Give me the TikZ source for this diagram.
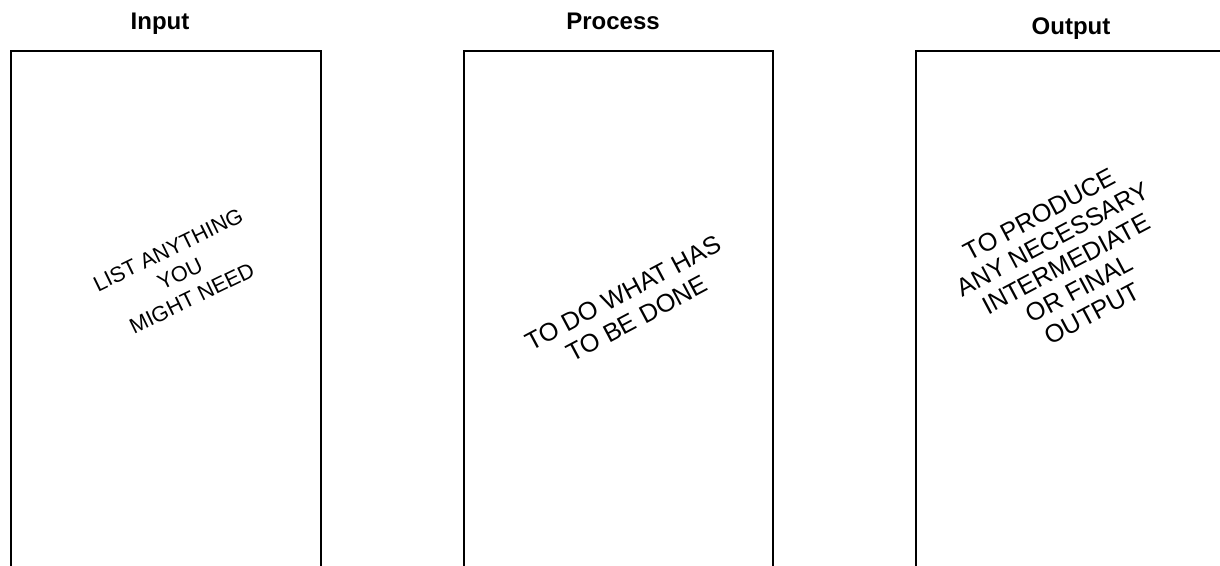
\documentclass[tikz,border=0pt]{standalone}
\usepackage{fontspec}
\setmainfont{Liberation Sans}
\begin{document}
\begin{tikzpicture}[x=0.5pt,y=-0.5pt,line width=1pt]
	\tikzset{tieude/.style={anchor=base,font=\bfseries\fontsize{12}{14}\selectfont},
		ghichu/.style n args={2}{rotate=28,align=center,inner sep=0pt,font=\fontsize{#1}{#2}\selectfont}}
	\useasboundingbox (0,0) rectangle (1220,566);
	% ba khung, mo o duoi
	\draw (11,566)coordinate(A1)--(11,51)--(321,51)--(321,566);
	\draw (464,566)coordinate(A2)--(464,51)--(773,51)--(773,566);
	\draw (916,566)coordinate(A3)--(916,51)--(1220,51);
	% tieu de
	\path (160,30)node[tieude](in){Input}
		(613,30)node[tieude](pro){Process}
		(1071,35)node[tieude](out){Output};
	% chu nghieng
	\path (180,274)node[ghichu={10.8}{13.5},rotate=-2](tin){LIST ANYTHING\\YOU\\MIGHT NEED}
		(630,306)node[ghichu={12.6}{14.5}](tpro){TO DO WHAT HAS\\TO BE DONE}
		(1066,264)node[ghichu={12.6}{14}](tout){TO PRODUCE\\ANY NECESSARY\\INTERMEDIATE\\OR FINAL\\OUTPUT};
\end{tikzpicture}
\end{document}
